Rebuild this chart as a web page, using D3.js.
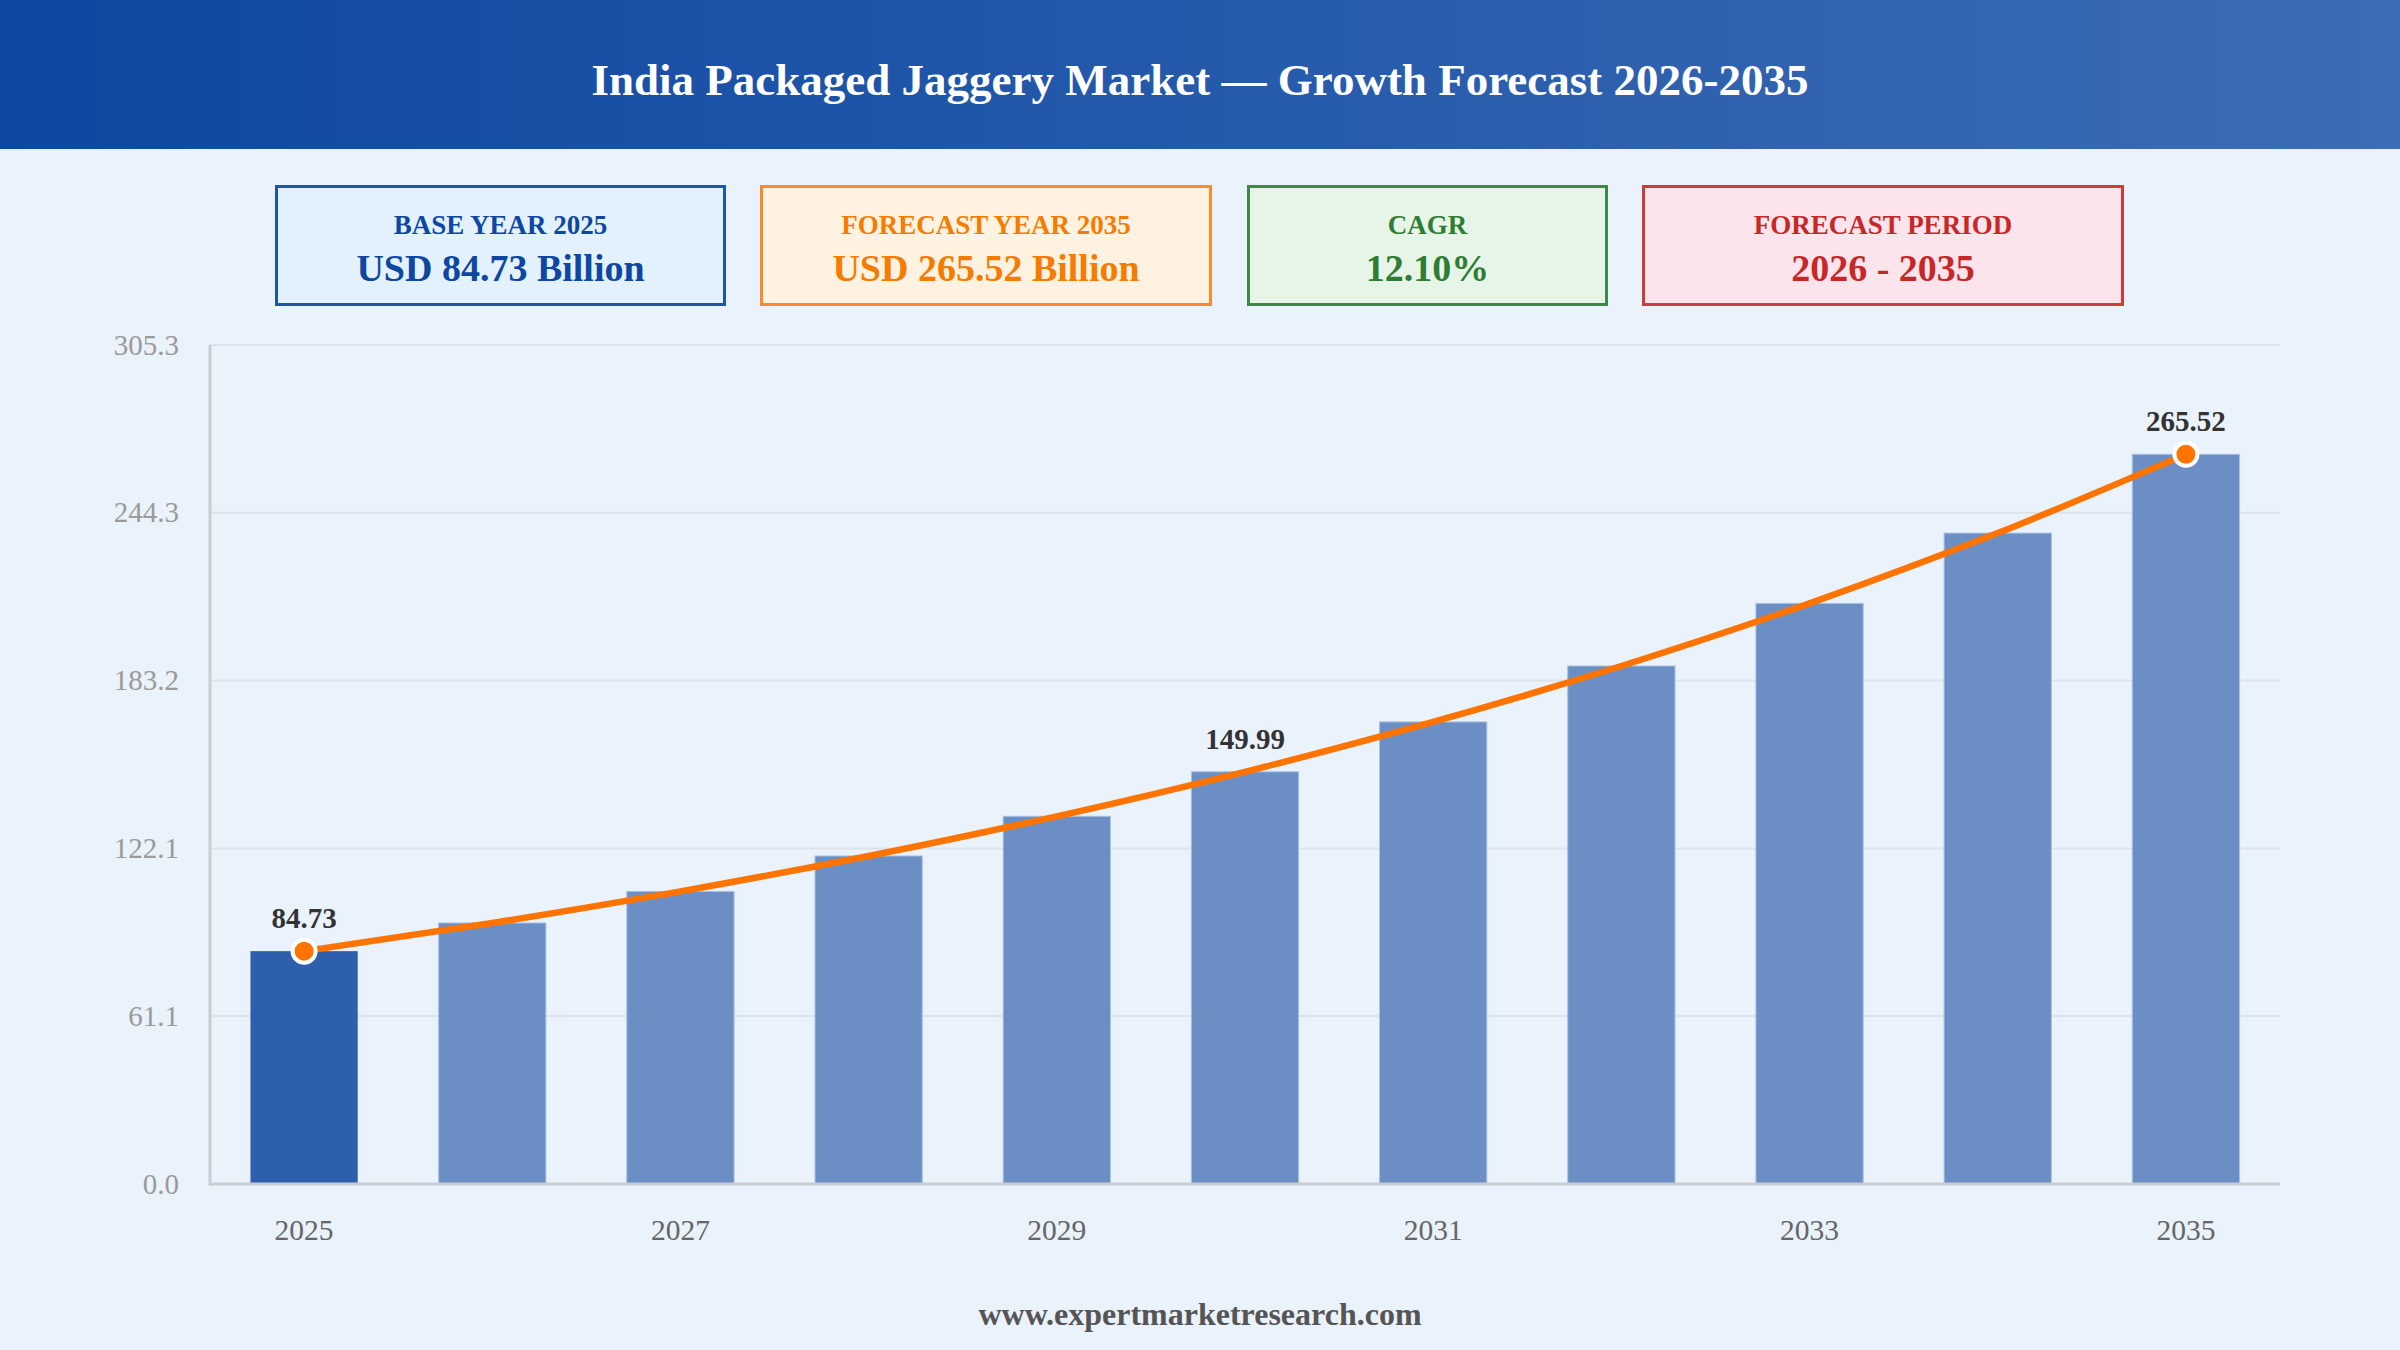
<!DOCTYPE html>
<head>
    <meta charset="utf-8" />
    <script src="https://d3js.org/d3.v7.min.js"></script>
    <style>
        body {
            margin: 0;
            background: #eaf2fc;
        }
        svg text {
            font-family: "Times New Roman", "Liberation Serif", serif;
        }
    </style>
    <title>India Packaged Jaggery Market</title>
</head>

<body>
    <script>
        // data
        var years = [2025, 2026, 2027, 2028, 2029, 2030, 2031, 2032, 2033, 2034, 2035];
        var values = [84.73, 94.98, 106.47, 119.36, 133.80, 149.99, 168.14, 188.49, 211.29, 236.86, 265.52];
        var yTicks = [0, 61.1, 122.1, 183.2, 244.3, 305.3];
        var labelledYears = [2025, 2030, 2035];
        var markerYears = [2025, 2035];

        var cardLabels = ["BASE YEAR 2025", "FORECAST YEAR 2035", "CAGR", "FORECAST PERIOD"];
        var cardValues = ["USD 84.73 Billion", "USD 265.52 Billion", "12.10%", "2026 - 2035"];
        var cardColors = ["#0d47a1", "#f57c00", "#2e7d32", "#c62828"];
        var cardBorders = ["#1c56aa", "#fb8a2a", "#3f8a43", "#cf3a3a"];
        var cardFills = ["#e3f1fd", "#fff2e0", "#e7f5e9", "#fce4ec"];

        var width = 2400,
            height = 1350;

        var svg = d3.select("body").append("svg")
            .attr("width", width)
            .attr("height", height);

        // header band
        var grad = svg.append("defs").append("linearGradient")
            .attr("id", "hdr").attr("x1", "0%").attr("x2", "100%");
        grad.append("stop").attr("offset", "0%").attr("stop-color", "#0d47a1");
        grad.append("stop").attr("offset", "100%").attr("stop-color", "#3d6cb4");

        svg.append("rect").attr("width", width).attr("height", height).attr("fill", "#eaf2fc");
        svg.append("rect").attr("width", width).attr("height", 149).attr("fill", "url(#hdr)");
        svg.append("text")
            .attr("x", width / 2).attr("y", 85)
            .attr("text-anchor", "middle").attr("dominant-baseline", "middle")
            .attr("fill", "#fff").attr("font-size", 45).attr("font-weight", "bold")
            .text("India Packaged Jaggery Market \u2014 Growth Forecast 2026-2035");

        // stat cards
        var cardX = [275, 760, 1247, 1642],
            cardW = [451, 452, 361, 482];
        var cards = svg.selectAll("g.card").data(cardLabels).join("g")
            .attr("class", "card")
            .attr("transform", (d, i) => "translate(" + cardX[i] + ",185)");
        cards.append("rect")
            .attr("x", 1.5).attr("y", 1.5)
            .attr("width", (d, i) => cardW[i] - 3).attr("height", 118)
            .attr("fill", (d, i) => cardFills[i])
            .attr("stroke", (d, i) => cardBorders[i])
            .attr("stroke-width", 3);
        cards.append("text")
            .attr("x", (d, i) => cardW[i] / 2).attr("y", 49)
            .attr("text-anchor", "middle").attr("font-size", 27).attr("font-weight", "bold")
            .attr("fill", (d, i) => cardColors[i])
            .text(d => d);
        cards.append("text")
            .attr("x", (d, i) => cardW[i] / 2).attr("y", 96)
            .attr("text-anchor", "middle").attr("font-size", 38).attr("font-weight", "bold")
            .attr("fill", (d, i) => cardColors[i])
            .text((d, i) => cardValues[i]);

        // chart area
        var plotL = 210, plotR = 2280, plotT = 345, plotB = 1184;

        var x = d3.scaleBand().domain(years).range([plotL, plotR])
            .paddingInner(0.43).paddingOuter(0.215);
        var y = d3.scaleLinear().domain([0, yTicks[yTicks.length - 1]]).range([plotB, plotT]);

        svg.append("g").selectAll("line").data(yTicks.slice(1)).join("line")
            .attr("x1", plotL).attr("x2", plotR)
            .attr("y1", d => y(d)).attr("y2", d => y(d))
            .attr("stroke", "#dde3ea").attr("stroke-width", 2);

        var yAxis = svg.append("g")
            .attr("transform", "translate(" + plotL + ",0)")
            .call(d3.axisLeft(y).tickValues(yTicks).tickFormat(d3.format(".1f")).tickSize(0).tickPadding(31));
        yAxis.select(".domain").remove();
        yAxis.selectAll("text").attr("font-size", 29).attr("fill", "#9a9a9a")
            .attr("font-family", "'Times New Roman', 'Liberation Serif', serif");

        var xAxis = svg.append("g")
            .attr("transform", "translate(0," + plotB + ")")
            .call(d3.axisBottom(x).tickValues(years.filter((d, i) => i % 2 == 0)).tickSize(0).tickPadding(35));
        xAxis.select(".domain").remove();
        xAxis.selectAll("text").attr("font-size", 29.5).attr("fill", "#666")
            .attr("font-family", "'Times New Roman', 'Liberation Serif', serif");

        svg.selectAll("rect.bar").data(values).join("rect")
            .attr("class", "bar")
            .attr("x", (d, i) => x(years[i]))
            .attr("width", x.bandwidth())
            .attr("y", d => y(d))
            .attr("height", d => plotB - y(d))
            .attr("fill", (d, i) => i == 0 ? "#2d5fac" : "#6b8fc4")
            .attr("stroke", (d, i) => i == 0 ? "none" : "#a9c0e2")
            .attr("stroke-width", 1);

        // axis lines
        svg.append("line").attr("x1", plotL).attr("x2", plotL).attr("y1", plotT).attr("y2", plotB + 1.5)
            .attr("stroke", "#c9cdd2").attr("stroke-width", 3);
        svg.append("line").attr("x1", plotL).attr("x2", plotR).attr("y1", plotB).attr("y2", plotB)
            .attr("stroke", "#c9cdd2").attr("stroke-width", 3);

        var cx = yr => x(yr) + x.bandwidth() / 2;

        var line = d3.line()
            .x((d, i) => cx(years[i]))
            .y(d => y(d))
            .curve(d3.curveMonotoneX);
        svg.append("path").datum(values)
            .attr("d", line)
            .attr("fill", "none")
            .attr("stroke", "#ff7300")
            .attr("stroke-width", 6.5)
            .attr("stroke-linecap", "round");

        svg.selectAll("circle.mark").data(markerYears).join("circle")
            .attr("class", "mark")
            .attr("cx", d => cx(d))
            .attr("cy", d => y(values[years.indexOf(d)]))
            .attr("r", 11.5)
            .attr("fill", "#ff7300")
            .attr("stroke", "#fff")
            .attr("stroke-width", 4);

        svg.selectAll("text.val").data(labelledYears).join("text")
            .attr("class", "val")
            .attr("x", d => cx(d))
            .attr("y", d => y(values[years.indexOf(d)]) - 23)
            .attr("text-anchor", "middle")
            .attr("font-size", 29).attr("font-weight", "bold").attr("fill", "#333")
            .text(d => values[years.indexOf(d)].toFixed(2));

        // footer
        svg.append("text")
            .attr("x", width / 2).attr("y", 1325)
            .attr("text-anchor", "middle")
            .attr("font-size", 32).attr("font-weight", "bold").attr("fill", "#555")
            .text("www.expertmarketresearch.com");
    </script>
</body>
